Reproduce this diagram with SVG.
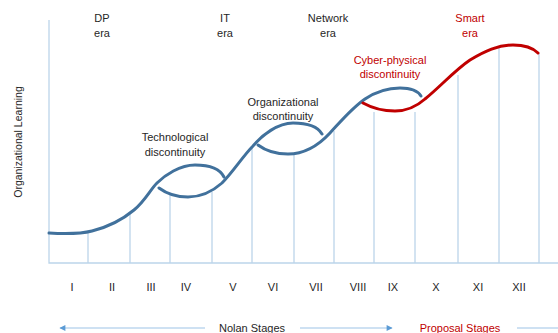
<svg xmlns="http://www.w3.org/2000/svg" width="558" height="333" viewBox="0 0 558 333">
<style>
text{font-family:"Liberation Sans",Arial,sans-serif;font-size:11px;fill:#262626;text-anchor:middle}
.red{fill:#c00000}
.grid{stroke:#bcd5ea;stroke-width:1.3;fill:none}
.blue{stroke:#41719c;stroke-width:3;fill:none;stroke-linecap:round}
.redc{stroke:#c00000;stroke-width:3;fill:none;stroke-linecap:round}
.arr{stroke:#9dc3e6;stroke-width:1;fill:none}
</style>
<defs>
<marker id="ah" viewBox="0 0 10 10" refX="9" refY="5" markerWidth="8" markerHeight="6" orient="auto-start-reverse" markerUnits="userSpaceOnUse">
<path d="M0,0 L10,5 L0,10 Z" fill="#5b9bd5"/>
</marker>
</defs>
<g id="axes">
<path class="grid" d="M49,20 V263 H558"/>
<path class="grid" d="M88,232V263M130,213V263M170,195V263M212,192V263M252,146V263M294,155V263M334,131V263M374,112V263M415,112V263M458,75V263M499,48V263M539,53V263"/>
</g>
<g id="curves">
<path class="blue" d="M49,233 C65,234 80,234 92,231 C108,227 122,220 134,210 C145,201 150,190 157,183 C165,175 180,165 195,165 C210,165 220,169 224,177"/>
<path class="blue" d="M159,188 C167,194 178,197 188,197 C203,197 213,191 222,183 C233,172 243,156 253,146 C262,135 278,123 293,123 C307,123 318,127 322,134"/>
<path class="blue" d="M258,145 C266,151 276,154 288,154 C304,154 318,146 330,133 C342,120 352,108 365,99 C377,91 390,88 400,88 C410,88 418,91 421,96"/>
<path class="redc" d="M363,103 C372,108 382,111 395,111 C407,111 416,107 425,99 C440,87 455,70 470,60 C485,51 498,45 513,45 C525,45 533,48 538,53"/>
</g>
<g id="eras">
<text x="102" y="22">DP</text><text x="102" y="37">era</text>
<text x="225" y="22">IT</text><text x="225" y="37">era</text>
<text x="328" y="22">Network</text><text x="328" y="37">era</text>
<text class="red" x="470" y="22">Smart</text><text class="red" x="470" y="37">era</text>
</g>
<g id="discontinuities">
<text x="175" y="141">Technological</text><text x="175" y="156">discontinuity</text>
<text x="283" y="106">Organizational</text><text x="283" y="120">discontinuity</text>
<text class="red" x="390" y="64">Cyber-physical</text><text class="red" x="390" y="78">discontinuity</text>
</g>
<g id="ylabel">
<text x="0" y="0" transform="translate(22,142) rotate(-90)" style="font-size:10.5px">Organizational Learning</text>
</g>
<g id="stages">
<text x="72" y="291">I</text><text x="112" y="291">II</text><text x="151" y="291">III</text><text x="186" y="291">IV</text><text x="233" y="291">V</text><text x="273" y="291">VI</text><text x="316" y="291">VII</text><text x="358" y="291">VIII</text><text x="393" y="291">IX</text><text x="436" y="291">X</text><text x="478" y="291">XI</text><text x="519" y="291">XII</text>
</g>
<g id="bottom">
<line class="arr" x1="205" y1="328" x2="60" y2="328" marker-end="url(#ah)"/>
<text x="252" y="332">Nolan Stages</text>
<line class="arr" x1="300" y1="328" x2="392" y2="328" marker-end="url(#ah)"/>
<text class="red" x="460" y="332">Proposal Stages</text>
<line class="arr" x1="517" y1="328" x2="558" y2="328"/>
</g>
</svg>
